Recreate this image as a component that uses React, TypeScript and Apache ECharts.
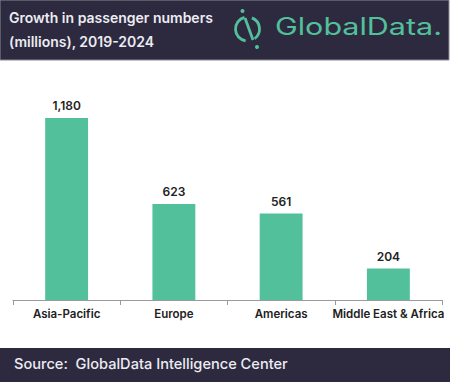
import React, { useEffect, useRef } from "react";
import * as echarts from "echarts";

const categories = ["Asia-Pacific", "Europe", "Americas", "Middle East & Africa"];
const values = [1180, 623, 561, 204];
const titleLines = ["Growth in passenger numbers", "(millions), 2019-2024"];
const sourceText = "Source:  GlobalData Intelligence Center";
const brandText = "GlobalData.";

const DARK = "#2d2a3f";
const GREEN = "#52c09b";
const FONT = "Inter, 'Noto Sans', sans-serif";

export default function App() {
  const ref = useRef<HTMLDivElement>(null);
  useEffect(() => {
    const chart = echarts.init(ref.current!, null, { renderer: "svg" });
    chart.setOption({
      animation: false,
      backgroundColor: "#ffffff",
      grid: { left: 13, right: 8, top: 84, bottom: 82, containLabel: false },
      xAxis: {
        type: "category",
        data: categories,
        axisLine: { show: true, lineStyle: { color: "#9a9a9a", width: 1 } },
        axisTick: { show: true, length: 5, lineStyle: { color: "#9a9a9a" } },
        axisLabel: {
          color: "#222222",
          fontFamily: FONT,
          fontWeight: 600,
          fontSize: 11.5,
          margin: 8,
          interval: 0,
        },
      },
      yAxis: {
        type: "value",
        min: 0,
        max: 1400,
        show: false,
        splitLine: { show: false },
      },
      series: [
        {
          type: "bar",
          data: values,
          barWidth: "40%",
          itemStyle: { color: GREEN },
          label: {
            show: true,
            position: "top",
            distance: 6,
            color: "#222222",
            fontFamily: FONT,
            fontWeight: 600,
            fontSize: 12,
            formatter: (p: any) => Number(p.value).toLocaleString("en-US"),
          },
        },
      ],
      graphic: [
        {
          type: "rect",
          shape: { x: 0, y: 0, width: 449, height: 60 },
          style: { fill: DARK, stroke: "#8a8a96", lineWidth: 1 },
          silent: true,
        },
        {
          type: "text",
          x: 9,
          y: 17,
          style: {
            text: titleLines[0],
            fill: "#ececf2",
            font: `600 14px ${FONT}`,
            verticalAlign: "middle",
          },
        },
        {
          type: "text",
          x: 9,
          y: 41,
          style: {
            text: titleLines[1],
            fill: "#ececf2",
            font: `600 14px ${FONT}`,
            verticalAlign: "middle",
          },
        },
        {
          type: "arc",
          shape: { cx: 247.5, cy: 29, r: 12, startAngle: -Math.PI * 0.38, endAngle: Math.PI * 0.3 },
          style: { stroke: GREEN, lineWidth: 2.8, fill: "none" },
        },
        {
          type: "arc",
          shape: { cx: 247.5, cy: 29, r: 12, startAngle: Math.PI * 0.55, endAngle: Math.PI * 1.42 },
          style: { stroke: GREEN, lineWidth: 2.8, fill: "none" },
        },
        {
          type: "line",
          shape: { x1: 245, y1: 18, x2: 253, y2: 40 },
          style: { stroke: GREEN, lineWidth: 2.8 },
        },
        {
          type: "circle",
          shape: { cx: 242.5, cy: 11, r: 2 },
          style: { fill: GREEN },
        },
        {
          type: "circle",
          shape: { cx: 257, cy: 47, r: 2 },
          style: { fill: GREEN },
        },
        {
          type: "text",
          x: 275,
          y: 26,
          scaleX: 1.27,
          style: {
            text: brandText,
            fill: GREEN,
            font: `400 24px ${FONT}`,
            verticalAlign: "middle",
          },
        },
        {
          type: "rect",
          shape: { x: 0, y: 348, width: 450, height: 34 },
          style: { fill: DARK },
          silent: true,
        },
        {
          type: "text",
          x: 14,
          y: 364,
          style: {
            text: sourceText,
            fill: "#ececf2",
            font: `500 14.6px ${FONT}`,
            verticalAlign: "middle",
          },
        },
      ],
    });
    return () => chart.dispose();
  }, []);
  return (
    <div
      ref={ref}
      style={{ position: "fixed", left: 0, top: 0, width: 450, height: 382 }}
    />
  );
}
